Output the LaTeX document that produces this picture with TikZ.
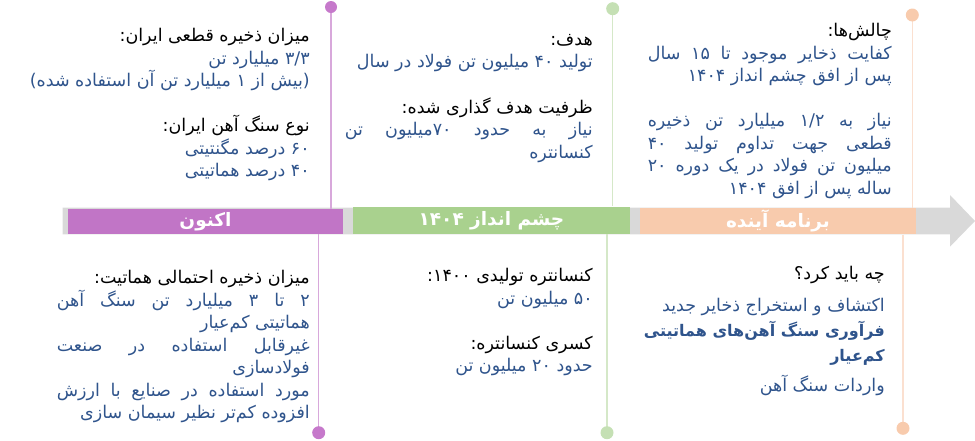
\documentclass[tikz,border=0pt]{standalone}
\usepackage{fontspec}
\newfontfamily\fa[Script=Arabic]{DejaVu Sans}
\TeXXeTstate=1
\definecolor{txtblue}{RGB}{47,84,140}
\definecolor{barpurple}{RGB}{193,117,198}
\definecolor{bargreen}{RGB}{169,209,142}
\definecolor{barorange}{RGB}{248,203,173}
\definecolor{bargray}{RGB}{217,217,217}
\definecolor{linepurple}{RGB}{216,168,219}
\definecolor{dotpurple}{RGB}{198,121,203}
\definecolor{linegreen}{RGB}{213,232,200}
\definecolor{dotgreen}{RGB}{197,224,180}
\definecolor{lineorange}{RGB}{251,224,208}
\definecolor{dotorange}{RGB}{248,203,173}
\newcommand\bc{\color{txtblue}}
\tikzset{
  blk/.style={anchor=north east, inner sep=0pt, align=right, font=\fa\fontsize{17.5}{22.5}\selectfont},
  barbox/.style={inner sep=0pt, text=white, font=\fa\bfseries\fontsize{18.5}{20}\selectfont},
  vline/.style={line width=1.2pt},
}
\begin{document}
\begin{tikzpicture}[x=1pt,y=-1pt]
\useasboundingbox (0,0) rectangle (975,440);
% arrow band
\fill[bargray] (62.5,207.7) -- (950,207.7) -- (950,195) -- (975,221) -- (950,246.7) -- (950,234.3) -- (62.5,234.3) -- cycle;
\node[barbox, fill=barpurple, minimum width=275pt, minimum height=24.7pt] (now) at (205.5,221.3) {\raisebox{-2.5pt}{\beginR اکنون\endR}};
\node[barbox, fill=bargreen, minimum width=277pt, minimum height=27.3pt] (vis) at (491.5,220.3) {\raisebox{-2.5pt}{\beginR چشم انداز ۱۴۰۴\endR}};
\node[barbox, fill=barorange, minimum width=276pt, minimum height=26pt] (fut) at (778,221.3) {\raisebox{-2.5pt}{\beginR برنامه آینده\endR}};
% dots
\coordinate (pt) at (331,7); \coordinate (pb) at (318.7,432.7);
\coordinate (gt) at (612.7,8.7); \coordinate (gb) at (607,432.7);
\coordinate (ot) at (912.3,15); \coordinate (ob) at (903,428.3);
\draw[vline, linepurple] (pt) -- (pt |- now.north);
\draw[vline, linepurple] (pb |- now.south) -- (pb);
\draw[vline, linegreen] (gt) -- (gt |- vis.north);
\draw[vline, linegreen] (gb |- vis.south) -- (gb);
\draw[vline, lineorange] (ot) -- (ot |- fut.north);
\draw[vline, lineorange] (ob |- fut.south) -- (ob);
\fill[dotpurple] (pt) circle (6); \fill[dotpurple] (pb) circle (6.5);
\fill[dotgreen] (gt) circle (6.5); \fill[dotgreen] (gb) circle (6.5);
\fill[dotorange] (ot) circle (6.5); \fill[dotorange] (ob) circle (6.5);
% text blocks
\node[blk] (b1) at (310,28.2) {\beginR میزان ذخیره قطعی ایران:\endR\\
{\bc\beginR ۳/۳ میلیارد تن\endR}\\
{\bc\beginR (بیش از ۱ میلیارد تن آن استفاده شده)\endR}\\[22.5pt]
\beginR نوع سنگ آهن ایران:\endR\\
{\bc\beginR ۶۰ درصد مگنتیتی\endR}\\
{\bc\beginR ۴۰ درصد هماتیتی\endR}};
\node[blk] (b2) at (593,33.7) {\beginR هدف:\endR\\
{\bc\beginR تولید ۴۰ میلیون تن فولاد در سال\endR}\\[23pt]
\beginR ظرفیت هدف گذاری شده:\endR\\
{\bc\makebox[248pt][s]{\beginR نیاز به حدود ۷۰میلیون تن\endR}}\\
{\bc\beginR کنسانتره\endR}};
\node[blk] (b3) at (892,23.2) {\beginR چالش‌ها:\endR\\
{\bc\makebox[244pt][s]{\beginR کفایت ذخایر موجود تا ۱۵ سال\endR}}\\
{\bc\beginR پس از افق چشم انداز ۱۴۰۴\endR}\\[22.5pt]
{\bc\makebox[244pt][s]{\beginR نیاز به ۱/۲ میلیارد تن ذخیره\endR}}\\
{\bc\makebox[244pt][s]{\beginR قطعی جهت تداوم تولید ۴۰\endR}}\\
{\bc\makebox[244pt][s]{\beginR میلیون تن فولاد در یک دوره ۲۰\endR}}\\
{\bc\beginR ساله پس از افق ۱۴۰۴\endR}};
\node[blk] (b4) at (310,270.2) {\beginR میزان ذخیره احتمالی هماتیت:\endR\\
{\bc\makebox[253pt][s]{\beginR ۲ تا ۳ میلیارد تن سنگ آهن\endR}}\\
{\bc\beginR هماتیتی کم‌عیار\endR}\\
{\bc\makebox[253pt][s]{\beginR غیرقابل استفاده در صنعت\endR}}\\
{\bc\beginR فولادسازی\endR}\\
{\bc\makebox[253pt][s]{\beginR مورد استفاده در صنایع با ارزش\endR}}\\
{\bc\beginR افزوده کم‌تر نظیر سیمان سازی\endR}};
\node[blk] (b5) at (593,268.2) {\beginR کنسانتره تولیدی ۱۴۰۰:\endR\\
{\bc\beginR ۵۰ میلیون تن\endR}\\[22.5pt]
\beginR کسری کنسانتره:\endR\\
{\bc\beginR حدود ۲۰ میلیون تن\endR}};
\node[blk] (b6) at (885,266.2) {\beginR چه باید کرد؟\endR\\[9pt]
{\bc\beginR اکتشاف و استخراج ذخایر جدید\endR}\\[2.5pt]
{\bfseries\fontsize{16}{22.5}\selectfont\bc\beginR فرآوری سنگ آهن‌های هماتیتی\endR}\\[2.5pt]
{\bfseries\fontsize{16}{22.5}\selectfont\bc\beginR کم‌عیار\endR}\\[7.5pt]
{\bc\beginR واردات سنگ آهن\endR}};
\end{tikzpicture}
\end{document}
